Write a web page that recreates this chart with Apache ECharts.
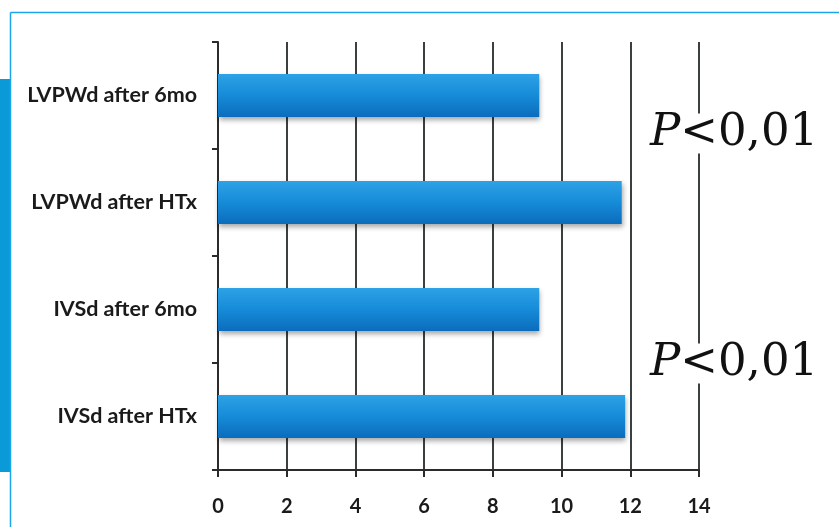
<!DOCTYPE html>
<html><head><meta charset="utf-8">
<script src="https://cdn.jsdelivr.net/npm/echarts@6/dist/echarts.min.js"></script>
<style>html,body{margin:0;padding:0;background:#fff}#c{width:839px;height:527px}</style>
</head><body><div id="c"></div>
<script>
const categories = ['LVPWd after 6mo', 'LVPWd after HTx', 'IVSd after 6mo', 'IVSd after HTx'];
const values = [9.35, 11.75, 9.35, 11.85];
const pTexts = ['P<0,01', 'P<0,01'];
const xMin = 0, xMax = 14, xStep = 2;

const chart = echarts.init(document.getElementById('c'));
const pLabel = (t, top) => ({
  type: 'text', left: 650, top: top, z: 100,
  style: {
    text: '{p|' + t.slice(0,1) + '}{r|' + t.slice(1) + '}',
    backgroundColor: '#fff',
    rich: {
      p: {fontFamily: 'DejaVu Serif', fontStyle: 'italic', fontSize: 45, fill: '#111', lineHeight: 40},
      r: {fontFamily: 'DejaVu Serif', fontSize: 45, fill: '#111', lineHeight: 40}
    }
  }
});
chart.setOption({
  animation: false,
  grid: {left: 218, right: 140, top: 42, bottom: 57},
  xAxis: {
    type: 'value', min: xMin, max: xMax, interval: xStep,
    axisLine: {show: true, lineStyle: {color: '#2b2b2b', width: 2}},
    axisTick: {show: true, length: 7, lineStyle: {color: '#2b2b2b', width: 2}},
    splitLine: {show: true, lineStyle: {color: '#3a3f3f', width: 2}},
    axisLabel: {color: '#1a1a1a', fontFamily: 'Lato', fontWeight: 'bold', fontSize: 20, margin: 27}
  },
  yAxis: {
    type: 'category', data: categories, inverse: true,
    axisLine: {show: true, lineStyle: {color: '#2b2b2b', width: 2}},
    axisTick: {show: true, length: 6, lineStyle: {color: '#2b2b2b', width: 2}},
    axisLabel: {color: '#1a1a1a', fontFamily: 'Lato', fontWeight: 'bold', fontSize: 21.5, margin: 21}
  },
  series: [{
    type: 'bar', data: values, barWidth: 43,
    itemStyle: {
      color: new echarts.graphic.LinearGradient(0, 0, 0, 1, [
        {offset: 0, color: '#2ea2e6'}, {offset: 0.5, color: '#168bd8'}, {offset: 1, color: '#0b6cbc'}
      ]),
      shadowColor: 'rgba(0,0,0,0.35)', shadowBlur: 5, shadowOffsetY: 3, shadowOffsetX: 1
    }
  }],
  graphic: [
    {type: 'rect', left: 0, top: 79, z: 50, shape: {width: 10, height: 393}, style: {fill: '#0a9ad8'}},
    {type: 'line', z: 50, shape: {x1: 10.5, y1: 12.5, x2: 839, y2: 12.5}, style: {stroke: '#1aa6e8', lineWidth: 1.5}},
    {type: 'line', z: 50, shape: {x1: 10.5, y1: 12.5, x2: 10.5, y2: 527}, style: {stroke: '#1aa6e8', lineWidth: 1.5}},
    pLabel(pTexts[0], 111),
    pLabel(pTexts[1], 341)
  ]
});
</script></body></html>
